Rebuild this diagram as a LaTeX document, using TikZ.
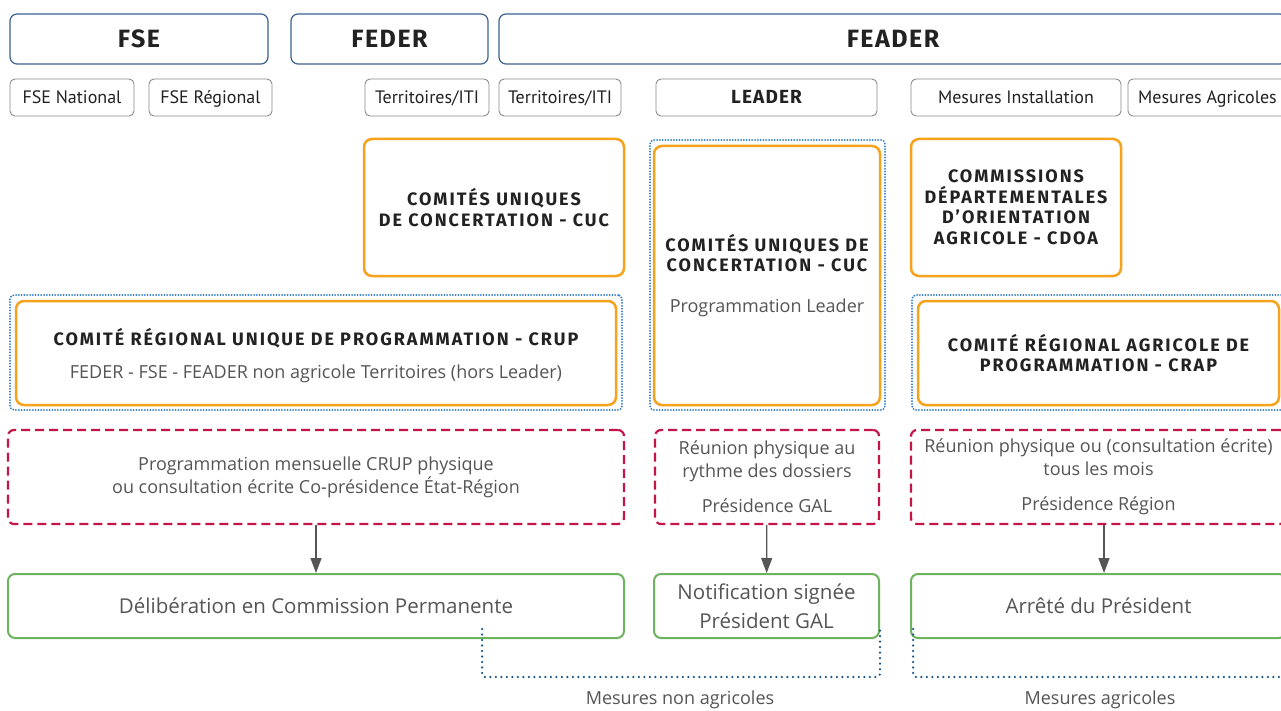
\documentclass[tikz,border=0pt]{standalone}
\usepackage{fontspec}
\setmainfont{Open Sans}
\newfontfamily\titlefont{Fira Sans}[LetterSpace=11]
\newfontfamily\bigtitlefont{Fira Sans}[LetterSpace=6]
\newfontfamily\tagfont{PT Sans}
\usepackage{tikz}
\usetikzlibrary{arrows.meta,positioning}

\definecolor{headblue}{HTML}{3C6290}
\definecolor{tagedge}{HTML}{8A8A8A}
\definecolor{orangeedge}{HTML}{F7A21B}
\definecolor{groupblue}{HTML}{2A78C6}
\definecolor{meetred}{HTML}{C41548}
\definecolor{decgreen}{HTML}{6DB35E}
\definecolor{bracketblue}{HTML}{1B5886}
\definecolor{textdark}{HTML}{222222}
\definecolor{textgray}{HTML}{555555}

\newcommand\bodytxt{\normalfont\color{textgray}\fontsize{18}{23}\selectfont}

\begin{document}
\begin{tikzpicture}[x=1pt, y=-1pt, >={Triangle[length=15pt,width=11pt]},
    headbox/.style={draw=headblue, line width=1.2pt, rounded corners=7pt, inner sep=0pt,
        minimum height=50pt, text height=18pt, text depth=0pt, text=textdark,
        font={\bigtitlefont\bfseries\fontsize{25}{29}\selectfont}},
    tagbox/.style={draw=tagedge, line width=0.9pt, rounded corners=5pt, inner sep=0pt,
        minimum height=37pt, text height=13pt, text depth=0pt, text=textdark,
        font={\tagfont\fontsize{18}{21}\selectfont}},
    orangebox/.style={draw=orangeedge, line width=2.5pt, rounded corners=8pt, inner sep=0pt,
        align=center, text=textdark, font={\titlefont\bfseries\fontsize{18}{20.5}\selectfont}},
    groupbox/.style={draw=groupblue, line width=2pt, line cap=round, dash pattern=on 0pt off 2.8pt,
        rounded corners=4pt, inner sep=0pt},
    meetbox/.style={draw=meetred, line width=2.2pt, dash pattern=on 9pt off 5pt, rounded corners=6pt,
        inner sep=0pt, minimum height=94pt, align=center, font=\bodytxt},
    decbox/.style={draw=decgreen, line width=2pt, rounded corners=7pt, inner sep=0pt,
        minimum height=64pt, align=center, font={\bodytxt\fontsize{20.5}{29}\selectfont}},
    flow/.style={->, draw=textgray, line width=1.2pt},
    bracket/.style={draw=bracketblue, line width=2.5pt, line cap=round, dash pattern=on 0pt off 5.5pt,
        rounded corners=3pt},
    measure/.style={font=\bodytxt}]

    % Frame
    \useasboundingbox (0,0) rectangle (1281,711);
    \fill[white] (0,0) rectangle (1281,711);
    \clip (0,0) rectangle (1281,711);

    % Funds
    \node[headbox, minimum width=258pt] (fse) at (139,39) {FSE};
    \node[headbox, minimum width=197pt] (feder) at (389.5,39) {FEDER};
    \node[headbox, minimum width=788pt] (feader) at (893,39) {FEADER};

    % Sub-measures
    \node[tagbox, minimum width=124pt] (fsenat) at (72,97.5) {FSE National};
    \node[tagbox, minimum width=123pt] (fsereg) at (210.5,97.5) {FSE Régional};
    \node[tagbox, minimum width=124pt] (terrfeder) at (427,97.5) {Territoires/ITI};
    \node[tagbox, minimum width=122pt] (terrfeader) at (560,97.5) {Territoires/ITI};
    \node[tagbox, minimum width=221pt, font={\bigtitlefont\bfseries\fontsize{19}{22}\selectfont}] (leader) at (766.5,97.5) {LEADER};
    \node[tagbox, minimum width=210pt] (mesinst) at (1016,97.5) {Mesures Installation};
    \node[tagbox, minimum width=159pt] (mesagri) at (1207.5,97.5) {Mesures Agricoles};

    % Committees
    \node[orangebox, minimum width=260pt, minimum height=137pt] (cucterr) at (494,207.5)
        {COMITÉS UNIQUES\\DE CONCERTATION - CUC};
    \node[groupbox, minimum width=235pt, minimum height=270pt] (leadergrp) at (767.5,275) {};
    \node[orangebox, minimum width=226pt, minimum height=259pt] (cucleader) at (767,275.5)
        {COMITÉS UNIQUES DE\\CONCERTATION - CUC\\[20pt]\bodytxt Programmation Leader};
    \node[orangebox, minimum width=210pt, minimum height=137pt] (cdoa) at (1016,207.5)
        {COMMISSIONS\\DÉPARTEMENTALES\\D’ORIENTATION\\AGRICOLE - CDOA};
    \node[groupbox, minimum width=612pt, minimum height=115pt] (crupgrp) at (316,352.5) {};
    \node[orangebox, minimum width=600pt, minimum height=104pt] (crup) at (316,353)
        {\rule{0pt}{22pt}COMITÉ RÉGIONAL UNIQUE DE PROGRAMMATION - CRUP\\[12pt]\bodytxt FEDER - FSE - FEADER non agricole Territoires (hors Leader)};
    \node[groupbox, minimum width=373pt, minimum height=115pt] (crapgrp) at (1098.5,352.5) {};
    \node[orangebox, minimum width=361pt, minimum height=104pt] (crap) at (1098.5,353)
        {COMITÉ RÉGIONAL AGRICOLE DE\\PROGRAMMATION - CRAP};

    % Meetings
    \node[meetbox, minimum width=616pt] (meetcrup) at (316,477)
        {Programmation mensuelle CRUP physique\\ou consultation écrite Co-présidence État-Région};
    \node[meetbox, minimum width=224pt] (meetgal) at (767,477)
        {Réunion physique au\\rythme des dossiers\\[12pt]Présidence GAL};
    \node[meetbox, minimum width=375pt] (meetcrap) at (1098.5,477)
        {Réunion physique ou (consultation écrite)\\tous les mois\\[12pt]Présidence Région};

    % Decisions
    \node[decbox, minimum width=616pt] (deccp) at (316,606) {Délibération en Commission Permanente};
    \node[decbox, minimum width=225pt] (decgal) at (766.5,606) {Notification signée\\Président GAL};
    \node[decbox, minimum width=375pt] (decpres) at (1098.5,606) {Arrêté du Président};

    \draw[flow] (meetcrup) -- (deccp);
    \draw[flow] (meetgal) -- (decgal);
    \draw[flow] ([xshift=5.5pt]meetcrap.south) -- ([xshift=5.5pt]decpres.north);

    % Brackets
    \coordinate (nonagstart) at (482,629);
    \coordinate (nonagend) at (880,629);
    \draw[bracket] (nonagstart) -- ++(0,48) -| (nonagend);
    \node[measure] (nonaglbl) at (680,700) {Mesures non agricoles};

    \coordinate (agstart) at (913,629);
    \draw[bracket] (agstart) -- ++(0,48) -- ++(420,0);
    \node[measure] (aglbl) at (1100,700) {Mesures agricoles};

\end{tikzpicture}
\end{document}
